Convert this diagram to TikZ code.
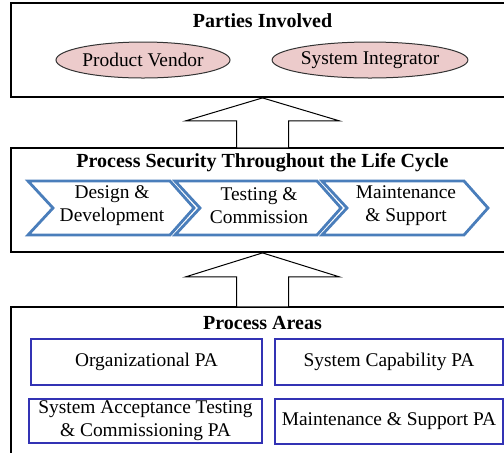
\documentclass[tikz,border=0pt]{standalone}
\usepackage{fontspec}
\setmainfont{Liberation Serif}
\usetikzlibrary{shapes.geometric}

\definecolor{partyfill}{RGB}{236,203,203}
\definecolor{stageblue}{RGB}{74,126,187}
\definecolor{areablue}{RGB}{50,50,180}

\tikzset{
  panel/.style={draw=black,line width=0.9pt,fill=white,inner sep=0pt},
  paneltitle/.style={font=\bfseries},
  party/.style={ellipse,draw=black!80,line width=0.5pt,fill=partyfill,inner sep=0pt,minimum width=87pt,minimum height=18pt},
  stagebox/.style={draw=stageblue,line width=1.4pt,fill=white,line join=miter},
  stagetext/.style={align=center},
  area/.style={draw=areablue,line width=0.75pt,fill=white,align=center,inner sep=0pt},
  blockarrow/.style={draw=black,line width=0.5pt,fill=white}
}

\begin{document}
\begin{tikzpicture}[x=0.5pt,y=-0.5pt,font=\fontsize{9.7}{11.5}\selectfont]
\useasboundingbox (0,0) rectangle (504,452);
\clip (0,0) rectangle (504,452);

% three panels
\node[panel,minimum width=251.5pt,minimum height=47pt] (parties) at (262.5,50) {};
\node[panel,minimum width=251.5pt,minimum height=52pt] (lifecycle) at (262.5,200) {};
\node[panel,minimum width=251.5pt,minimum height=81.5pt] (areas) at (262.5,388.5) {};

% block arrows between the panels
\draw[blockarrow] (parties.south) -- ++(77,23) -- ++(-51,0) -- ++(0,27) -- ++(-52,0) -- ++(0,-27) -- ++(-51,0) -- cycle;
\draw[blockarrow] (lifecycle.south) -- ++(77,24) -- ++(-51,0) -- ++(0,30) -- ++(-52,0) -- ++(0,-30) -- ++(-51,0) -- cycle;

% parties
\node[paneltitle] (tparties) at (262.5,21) {Parties Involved};
\node[party] (vendor) at (143,60) {Product Vendor};
\node[party] (integrator) at (370,60) {System Integrator};

% life cycle
\node[paneltitle] (tlifecycle) at (262.5,163) {Process Security Throughout the Life Cycle};
\foreach \x/\name/\txt in {28/design/{Design \&\\Development},175/testing/{Testing \&\\Commission},322/maintain/{Maintenance\\\& Support}} {
  \draw[stagebox] (\x,181) -- ++(142,0) -- ++(24,27) -- ++(-24,27) -- ++(-142,0) -- ++(25,-27) -- cycle;
  \node[stagetext] (\name) at (\x+84,206) {\txt};
}

% process areas
\node[paneltitle] (tareas) at (262.5,323) {Process Areas};
\node[area,minimum width=115.5pt,minimum height=23pt] (orgpa) at (146.5,362) {Organizational PA};
\node[area,minimum width=114pt,minimum height=23pt] (cappa) at (389,362) {System Capability PA};
\node[area,minimum width=116.5pt,minimum height=22pt] (accpa) at (145.5,421) {System Acceptance Testing\\\& Commissioning PA};
\node[area,minimum width=114pt,minimum height=22.5pt] (maintpa) at (389,421.5) {Maintenance \& Support PA};
\end{tikzpicture}
\end{document}
